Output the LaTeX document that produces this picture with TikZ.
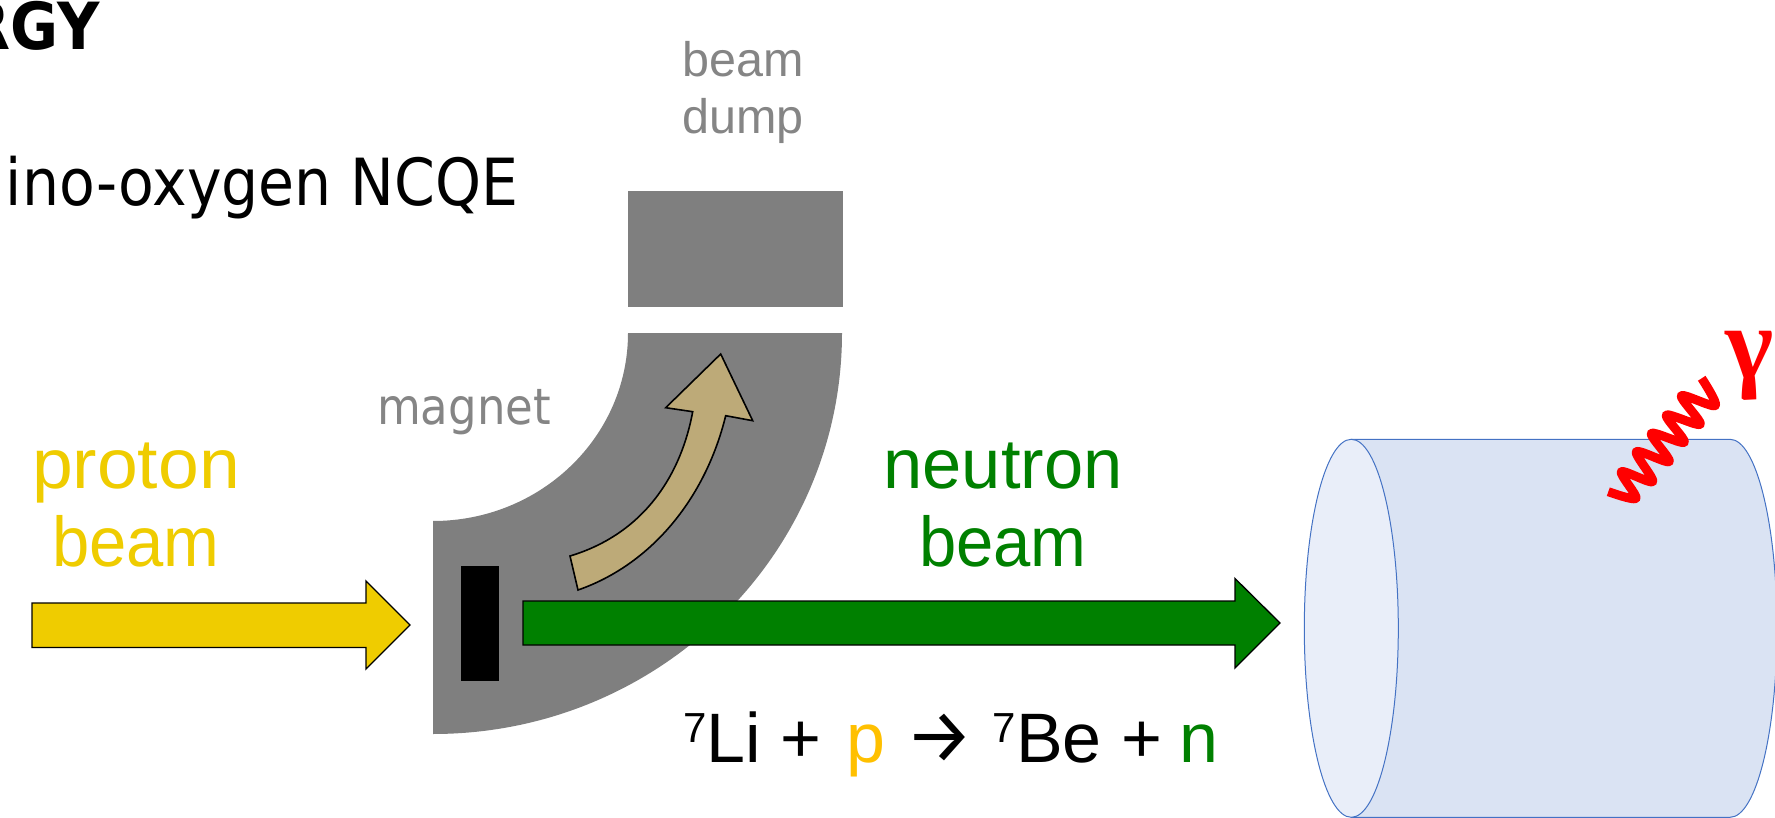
\documentclass[tikz,border=0pt]{standalone}
\usepackage{fontspec}
\setmainfont{Liberation Sans}
\newfontfamily\gamfont{Liberation Serif}
\newfontfamily\hdfont[FakeStretch=0.9]{DejaVu Sans}
\newfontfamily\magfont[FakeStretch=0.9]{DejaVu Sans}
\newfontfamily\arrfont{Fira Sans}
\newfontfamily\wideSans[FakeStretch=1.04]{Liberation Sans}
\newfontfamily\narrowSans[FakeStretch=0.95]{Liberation Sans}
\usetikzlibrary{arrows.meta}
\definecolor{magnetgray}{HTML}{7F7F7F}
\definecolor{protonyellow}{HTML}{EFCC00}
\definecolor{pyellow}{HTML}{FFC000}
\definecolor{neutrongreen}{HTML}{008000}
\definecolor{tanarrow}{HTML}{BDAA78}
\definecolor{cylbody}{HTML}{DAE3F3}
\definecolor{cylcap}{HTML}{E9EEF9}
\definecolor{cylline}{HTML}{4472C4}
\definecolor{labelgray}{HTML}{858585}
\newcommand{\isotope}{\raisebox{20pt}{\fontsize{42}{42}\selectfont 7}}
\tikzset{
  lbl/.style={inner sep=0pt,outer sep=0pt,align=center},
  blockarrow/.style={draw=black,line width=1.3pt,line join=miter},
  graylabel/.style={lbl,anchor=base,text=labelgray,font=\fontsize{48.5}{57}\selectfont},
  biglabel/.style={lbl,anchor=base}
}
\begin{document}
\begin{tikzpicture}[x=1pt,y=-1pt]
\useasboundingbox (0,0) rectangle (1775,818);
\clip (0,0) rectangle (1775,818);
% header text
\node[lbl,anchor=base east,font=\fontsize{65}{70}\hdfont\bfseries] (hd1) at (100,50) {RGY};
\node[lbl,anchor=base east,font=\fontsize{65}{70}\hdfont] (hd2) at (518,206) {ino-oxygen NCQE};
% magnet
\fill[magnetgray] (628,191) rectangle (843,307);
\fill[magnetgray] (433,521) arc[start angle=90,end angle=0,x radius=195,y radius=188]
  -- (842,333) arc[start angle=0,end angle=90,x radius=409,y radius=401] -- cycle;
\fill[black] (461,566) rectangle (499,681);
% tan arrow
\draw[blockarrow,line width=1.6pt,fill=tanarrow] (570,556) .. controls (640,535) and (680,480) .. (692.7,411.7)
  -- (665.7,407.7) -- (720.7,354) -- (752.7,420.7) -- (725.7,415.7)
  .. controls (705,500) and (650,565) .. (578,590) -- cycle;
% cylinder
\draw[cylline,line width=1pt,fill=cylbody] (1351.3,439.3) -- (1730,439.3)
  arc[start angle=90,end angle=-90,x radius=47,y radius=-189] -- (1351.3,817.3) -- cycle;
\draw[cylline,line width=1pt,fill=cylcap] (1351.3,628.3) ellipse[x radius=47,y radius=189];
% arrows
\draw[blockarrow,fill=protonyellow] (32,603) -- (366,603) -- (366,581) -- (410,625) -- (366,669) -- (366,647.5) -- (32,647.5) -- cycle;
\draw[blockarrow,fill=neutrongreen] (523,601) -- (1235,601) -- (1235,578.5) -- (1280,623) -- (1235,668) -- (1235,645) -- (523,645) -- cycle;
% photon
\draw[red,line width=9pt,line join=round] plot[smooth,tension=0.5] coordinates {(1608.3,491.7) (1636,498.3) (1621.3,471.7) (1652.7,481.6) (1636.3,451.7) (1669.3,461.6) (1651.3,433.4) (1684.3,442.3) (1666.3,415.1) (1700.3,424.3) (1681.3,395.7) (1715.3,405.6) (1701.7,378.3)};
\node[lbl,anchor=base,text=red,font=\fontsize{103}{103}\gamfont\bfseries] (gam) at (1750,378) {γ};
% labels
\node[graylabel] (dump1) at (743,77) {beam};
\node[graylabel] (dump2) at (743,134) {dump};
\node[lbl,anchor=base,text=labelgray,font=\fontsize{50}{50}\magfont] (mag) at (464,424) {magnet};
\node[biglabel,text=protonyellow,font=\fontsize{70.5}{78}\wideSans] (pb1) at (136,488) {proton};
\node[biglabel,text=protonyellow,font=\fontsize{70.5}{78}\narrowSans] (pb2) at (136,566) {beam};
\node[biglabel,text=neutrongreen,font=\fontsize{70.5}{78}\selectfont] (nb1) at (1003,488) {neutron};
\node[biglabel,text=neutrongreen,font=\fontsize{70.5}{78}\narrowSans] (nb2) at (1003,566) {beam};
\node[lbl,anchor=base west,font=\fontsize{70}{70}\selectfont] (rxn) at (683,762) {\isotope Li + \hspace{6pt}\textcolor{pyellow}{p} {\fontsize{76}{76}\arrfont →} \isotope Be + \hspace{-2pt}\textcolor{neutrongreen}{n}};
\end{tikzpicture}
\end{document}
